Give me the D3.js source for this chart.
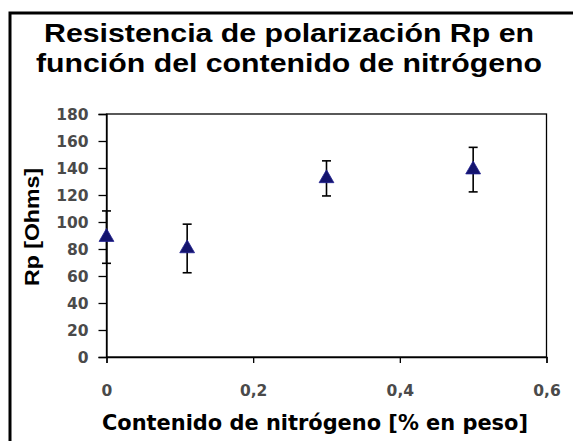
<!DOCTYPE html>
<html>
<head>
<meta charset="utf-8">
<script src="https://cdn.jsdelivr.net/npm/d3@7"></script>
<style>
  body { margin: 0; background: #fff; }
  svg { display: block; font-family: "Liberation Sans", Arial, sans-serif; }
</style>
</head>
<body>
<svg id="chart"></svg>
<script>
// data
const nitrogen = [0, 0.11, 0.3, 0.5];
const rpMean = [88.8, 80.4, 132.3, 138.8];
const rpError = [19.4, 18, 13, 16.5];
const yTicks = [0, 20, 40, 60, 80, 100, 120, 140, 160, 180];
const xTicks = [0, 0.2, 0.4, 0.6];
const titleLines = ["Resistencia de polarización Rp en", "función del contenido de nitrógeno"];

const width = 573;
const height = 441;
const svg = d3.select("#chart").attr("width", width).attr("height", height);

// outer frame (Excel chart area)
svg.append("rect")
    .attr("x", 10).attr("y", 13)
    .attr("width", 600).attr("height", 500)
    .attr("fill", "#fff")
    .attr("stroke", "#000")
    .attr("stroke-width", 3);

// title - the source image is a bit stretched horizontally, so fix widths
const titleWidths = [490, 506];
svg.append("g").selectAll("text")
    .data(titleLines)
    .enter()
    .append("text")
    .attr("x", 289)
    .attr("y", (d, i) => 42 + i * 29.5)
    .attr("text-anchor", "middle")
    .attr("font-size", 26)
    .attr("font-weight", "bold")
    .attr("textLength", (d, i) => titleWidths[i])
    .attr("lengthAdjust", "spacingAndGlyphs")
    .attr("fill", "#000")
    .text(d => d);

const plot = {left: 106.5, right: 546.5, top: 114, bottom: 357};

const x = d3.scaleLinear().domain([0, 0.6]).range([plot.left, plot.right]);
const y = d3.scaleLinear().domain([0, 180]).range([plot.bottom, plot.top]);

// plot area box
svg.append("rect")
    .attr("x", plot.left).attr("y", plot.top)
    .attr("width", plot.right - plot.left).attr("height", plot.bottom - plot.top)
    .attr("fill", "none")
    .attr("stroke", "#000")
    .attr("stroke-width", 1.3);

const fmt = d => d3.format(".1f")(d).replace(/\.0$/, "").replace(".", ",");

const yAxis = svg.append("g")
    .attr("transform", `translate(${plot.left},0)`)
    .call(d3.axisLeft(y).tickValues(yTicks).tickSize(8).tickPadding(10).tickFormat(d => d));
const xAxis = svg.append("g")
    .attr("transform", `translate(0,${plot.bottom})`)
    .call(d3.axisBottom(x).tickValues(xTicks).tickSize(6).tickPadding(33).tickFormat(fmt));

[yAxis, xAxis].forEach(ax => {
    ax.select(".domain").attr("stroke", "#000").attr("stroke-width", 1.3);
    ax.selectAll(".tick line").attr("stroke", "#000").attr("stroke-width", 1.3);
    ax.selectAll(".tick text")
        .attr("font-family", "'DejaVu Sans', sans-serif")
        .attr("font-size", 15.5)
        .attr("font-weight", "bold")
        .attr("fill", "#4a4a4a");
});
yAxis.selectAll(".tick text").attr("dy", "0.36em");
xAxis.selectAll(".tick text").attr("dy", "0");

// error bars
const points = nitrogen.map((n, i) => ({x: n, y: rpMean[i], e: rpError[i]}));
const bars = svg.append("g").selectAll("g")
    .data(points)
    .enter()
    .append("g")
    .attr("stroke", "#000")
    .attr("stroke-width", 1.6);
bars.append("line")
    .attr("x1", d => x(d.x)).attr("x2", d => x(d.x))
    .attr("y1", d => y(d.y + d.e)).attr("y2", d => y(d.y - d.e));
bars.append("line")
    .attr("x1", d => x(d.x) - 4.5).attr("x2", d => x(d.x) + 4.5)
    .attr("y1", d => y(d.y + d.e)).attr("y2", d => y(d.y + d.e));
bars.append("line")
    .attr("x1", d => x(d.x) - 4.5).attr("x2", d => x(d.x) + 4.5)
    .attr("y1", d => y(d.y - d.e)).attr("y2", d => y(d.y - d.e));

// triangle markers
svg.append("g").selectAll("path")
    .data(points)
    .enter()
    .append("path")
    .attr("d", d3.symbol().type(d3.symbolTriangle).size(95))
    .attr("transform", d => `translate(${x(d.x)},${y(d.y)})`)
    .attr("fill", "#14146e")
    .attr("stroke", "#1f1f90")
    .attr("stroke-width", 0.8);

// axis titles
svg.append("text")
    .attr("transform", `translate(39,227) rotate(-90)`)
    .attr("text-anchor", "middle")
    .attr("font-size", 20)
    .attr("font-weight", "bold")
    .attr("textLength", 118)
    .attr("lengthAdjust", "spacingAndGlyphs")
    .attr("fill", "#000")
    .text("Rp [Ohms]");

svg.append("text")
    .attr("x", 315)
    .attr("y", 430)
    .attr("text-anchor", "middle")
    .attr("font-family", "'DejaVu Sans', sans-serif")
    .attr("font-size", 21)
    .attr("font-weight", "bold")
    .attr("textLength", 426)
    .attr("lengthAdjust", "spacingAndGlyphs")
    .attr("fill", "#000")
    .text("Contenido de nitrógeno [% en peso]");
</script>
</body>
</html>
